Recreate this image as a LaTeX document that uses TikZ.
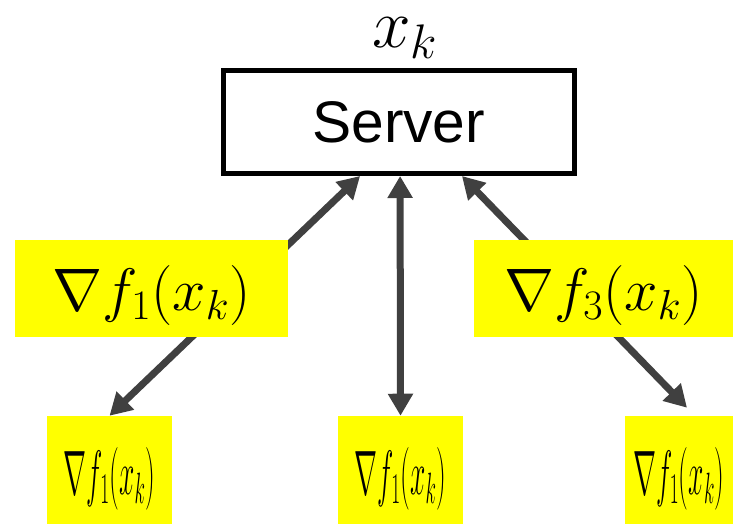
\RequirePackage{fix-cm}
\documentclass[tikz,border=0pt]{standalone}
\usepackage{fontspec}
\setsansfont{Liberation Sans}
\usetikzlibrary{arrows.meta}
\definecolor{arrowgray}{RGB}{64,64,64}
\definecolor{hiyellow}{RGB}{255,255,0}
\begin{document}
\begin{tikzpicture}[x=0.75pt,y=-0.75pt,
  serverbox/.style={draw=black, line width=3.75pt, minimum width=263.6pt,
    minimum height=77.25pt, inner sep=0pt,
    font=\sffamily\fontsize{44}{52}\selectfont},
  gradlabel/.style={fill=hiyellow, inner sep=0pt, text height=52.5pt,
    text depth=20.25pt, font=\fontsize{45}{54}\selectfont},
  workerbox/.style={fill=hiyellow, inner sep=0pt, text height=58.5pt,
    text depth=22.5pt, font=\fontsize{47}{56}\selectfont},
  conn/.style={draw=arrowgray, line width=5.25pt,
    {Triangle[length=16.5pt,width=18pt]}-{Triangle[length=16.5pt,width=18pt]}}
]
\useasboundingbox (0,0) rectangle (735,524);

% server and its iterate
\node[serverbox] (server) at (398.75,122) {Server};
\node[font=\fontsize{52}{60}\selectfont, anchor=base, inner sep=2pt] (xk) at (405,48) {$x_k$};

% workers
\node[workerbox, minimum width=93.75pt] (w1) at (109.5,470)
  {\scalebox{0.44}[1]{$\nabla f_1(x_k)$}\hspace{8pt}};
\node[workerbox, minimum width=93.75pt] (w2) at (400.5,470)
  {\scalebox{0.44}[1]{$\nabla f_1(x_k)$}\hspace{8pt}};
\node[workerbox, minimum width=81pt] (w3) at (679,470)
  {\scalebox{0.44}[1]{$\nabla f_1(x_k)$}};

% two-way links between server and workers
\draw[conn] ([xshift=-29pt]server.south) -- (w1.north);
\draw[conn] ([xshift=1pt]server.south) -- (w2.north);
\draw[conn] ([xshift=47.4pt]server.south) -- ([xshift=6pt,yshift=6pt]w3.north);

% gradient labels laid over the links
\node[gradlabel, minimum width=204.75pt] (g1) at (151.5,288.5)
  {$\nabla f_1(x_k)$\hspace{15pt}};
\node[gradlabel, minimum width=194.25pt] (g3) at (603.5,288.5)
  {$\nabla f_3(x_k)$};
\end{tikzpicture}
\end{document}
